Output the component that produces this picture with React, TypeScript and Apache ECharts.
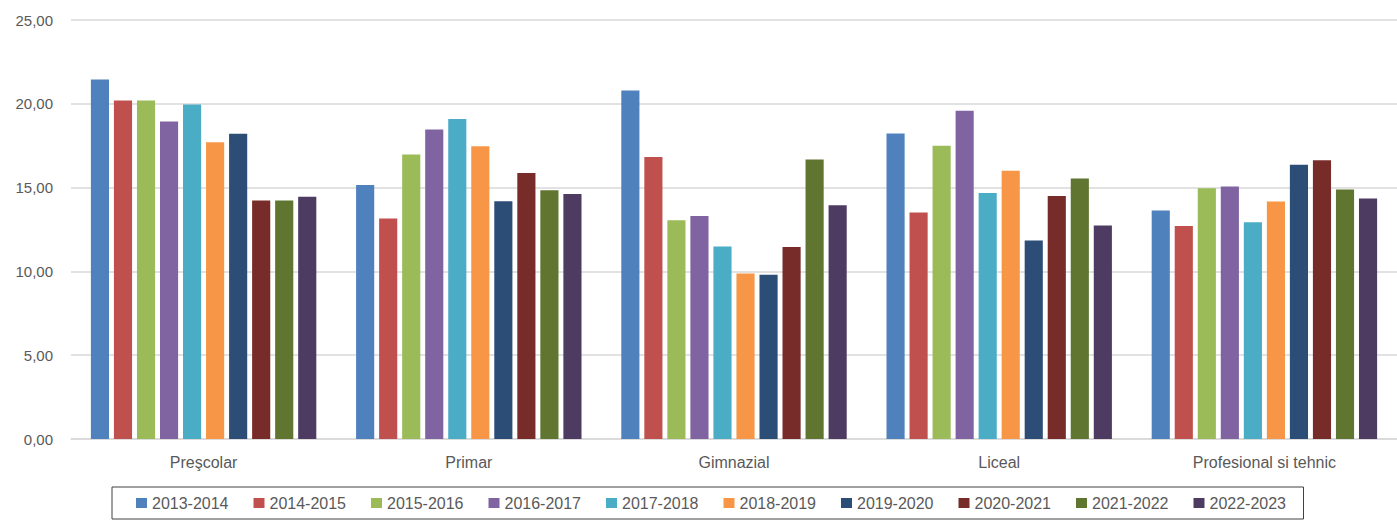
import React, { useEffect, useRef } from "react";
import * as echarts from "echarts";

const categories = ["Preşcolar", "Primar", "Gimnazial", "Liceal", "Profesional si tehnic"];
const seriesNames = [
  "2013-2014", "2014-2015", "2015-2016", "2016-2017", "2017-2018",
  "2018-2019", "2019-2020", "2020-2021", "2021-2022", "2022-2023",
];
const colors = [
  "#4F81BD", "#C0504D", "#9BBB59", "#8064A2", "#4BACC6",
  "#F79646", "#2C4D75", "#772C2A", "#5F7530", "#4D3B62",
];
const v2013 = [21.45, 15.15, 20.79, 18.23, 13.63];
const v2014 = [20.2, 13.15, 16.82, 13.51, 12.71];
const v2015 = [20.2, 16.98, 13.05, 17.5, 14.96];
const v2016 = [18.95, 18.47, 13.31, 19.58, 15.06];
const v2017 = [19.96, 19.1, 11.49, 14.68, 12.93];
const v2018 = [17.71, 17.46, 9.88, 16.01, 14.17];
const v2019 = [18.21, 14.18, 9.8, 11.85, 16.37];
const v2020 = [14.23, 15.87, 11.46, 14.5, 16.63];
const v2021 = [14.23, 14.84, 16.68, 15.54, 14.88];
const v2022 = [14.46, 14.62, 13.95, 12.74, 14.35];
const values = [v2013, v2014, v2015, v2016, v2017, v2018, v2019, v2020, v2021, v2022];
const yTicks = { min: 0, max: 25, interval: 5 };

export default function App() {
  const ref = useRef<HTMLDivElement>(null);
  useEffect(() => {
    document.body.style.margin = "0";
    const chart = echarts.init(ref.current!, null, { renderer: "svg" });
    const font = "'Liberation Sans', Arial, sans-serif";
    chart.setOption({
      animation: false,
      color: colors,
      grid: { left: 71, right: 0, top: 20, bottom: 82 },
      xAxis: {
        type: "category",
        data: categories,
        axisLine: { show: true, lineStyle: { color: "#D9D9D9", width: 1.5 } },
        axisTick: { show: false },
        axisLabel: { color: "#595959", fontSize: 16, fontFamily: font, margin: 15 },
      },
      yAxis: {
        type: "value",
        min: yTicks.min,
        max: yTicks.max,
        interval: yTicks.interval,
        axisLine: { show: false },
        axisTick: { show: false },
        splitLine: { lineStyle: { color: "#D9D9D9", width: 1.5 } },
        axisLabel: {
          color: "#595959",
          fontSize: 15,
          fontFamily: font,
          margin: 18,
          formatter: (v: number) => v.toFixed(2).replace(".", ","),
        },
      },
      legend: {
        left: 112,
        top: 487,
        itemWidth: 11,
        itemHeight: 10,
        itemGap: 24.5,
        icon: "rect",
        borderColor: "#404040",
        borderWidth: 1,
        padding: [8, 17, 8, 24],
        textStyle: { color: "#595959", fontSize: 16, fontFamily: font, width: 77, lineHeight: 16 },
        data: seriesNames,
      },
      series: seriesNames.map((name, i) => ({
        name,
        type: "bar",
        data: values[i],
        barCategoryGap: "15%",
        barGap: "27%",
        itemStyle: { color: colors[i] },
      })),
    });
    return () => chart.dispose();
  }, []);
  return <div ref={ref} style={{ width: 1397, height: 521 }} />;
}
